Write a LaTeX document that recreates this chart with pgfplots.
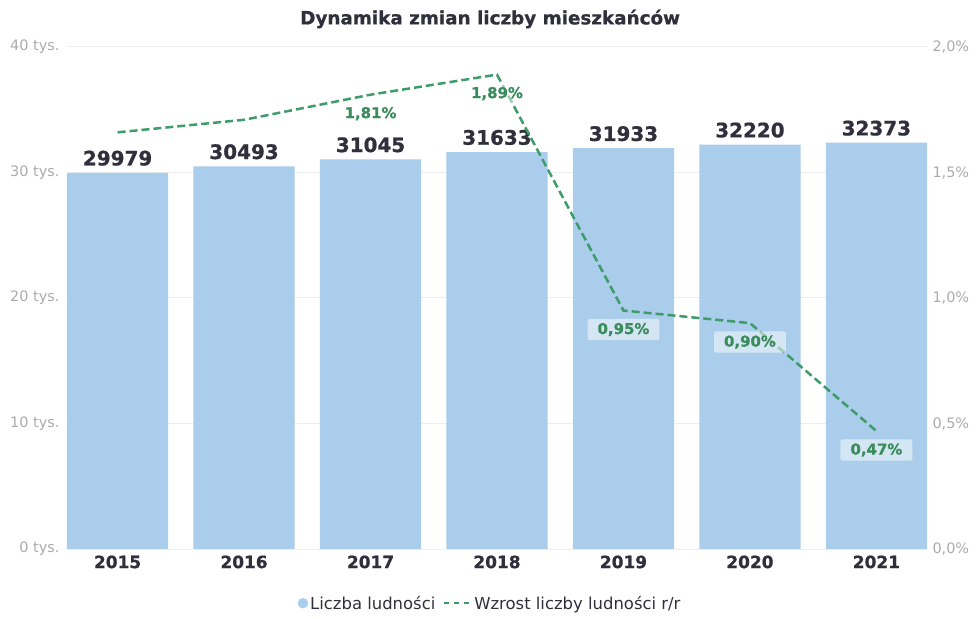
\documentclass[border=0pt]{standalone}
\usepackage{pgfplots}
\pgfplotsset{compat=1.18}
\usepackage{fontspec}
\setmainfont{DejaVu Sans}
\newfontfamily\heavy{DejaVu Sans Bold}[FakeBold=0.8]
\definecolor{barblue}{HTML}{A9CDEA}
\definecolor{lgreen}{HTML}{3E9B6A}
\definecolor{tgreen}{HTML}{3A8C5C}
\definecolor{tickgray}{HTML}{ABABAB}
\definecolor{darktxt}{HTML}{30303C}
\definecolor{gridc}{HTML}{EDEDED}
\begin{document}
\begin{tikzpicture}
\useasboundingbox (-67bp,-70bp) rectangle (911bp,549bp);
\begin{axis}[
  at={(0,0)}, anchor=south west,
  scale only axis, width=860bp, height=502bp,
  xmin=-0.4, xmax=6.4, ymin=0, ymax=40000,
  scaled y ticks=false,
  xtick={0,1,2,3,4,5,6},
  xticklabels={2015,2016,2017,2018,2019,2020,2021},
  ytick={0,10000,20000,30000,40000},
  yticklabels={0 tys.,10 tys.,20 tys.,30 tys.,40 tys.},
  ymajorgrids, grid style={gridc, line width=1bp},
  axis line style={draw=none},
  major tick length=0pt,
  yticklabel style={font=\fontsize{14.5}{16}\selectfont, text=tickgray, xshift=-4bp},
  xticklabel style={font=\heavy\fontsize{17}{19}\selectfont, text=darktxt, yshift=-3bp},
  title={Dynamika zmian liczby mieszkańców},
  title style={at={(0.492,1)}, anchor=center, yshift=22bp,
    font=\heavy\fontsize{18.4}{20}\selectfont, text=darktxt},
  /pgf/number format/1000 sep={},
  /pgf/number format/assume math mode=true,
  nodes near coords,
  nodes near coords style={font=\heavy\fontsize{20}{22}\selectfont, text=darktxt, yshift=3.5bp},
]
\addplot[ybar, bar width=0.8, fill=barblue, draw=none] coordinates {
  (0,29979) (1,30493) (2,31045) (3,31633) (4,31933) (5,32220) (6,32373)
};
\end{axis}
\begin{axis}[
  at={(0,0)}, anchor=south west,
  scale only axis, width=860bp, height=502bp,
  xmin=-0.4, xmax=6.4, ymin=0, ymax=2,
  xtick=\empty,
  axis x line=none,
  axis y line*=right,
  axis line style={draw=none},
  major tick length=0pt,
  ytick={0,0.5,1,1.5,2},
  yticklabels={{0,0\%},{0,5\%},{1,0\%},{1,5\%},{2,0\%}},
  yticklabel style={font=\fontsize{14.5}{16}\selectfont, text=tickgray, xshift=2bp},
  legend style={at={(0.492,-0.108)}, anchor=center, draw=none, fill=none,
    font=\fontsize{16.5}{18}\selectfont, text=darktxt, legend columns=2,
    /tikz/every even column/.append style={column sep=6bp},
    legend cell align=left},
]
\addlegendimage{legend image code/.code={\fill[barblue] (2bp,0bp) circle (5bp);}}
\addlegendentry{Liczba ludności}
\addplot[lgreen, line width=2.5bp, dash pattern=on 8bp off 4bp, mark=none,
  legend image code/.code={\draw[lgreen, line width=2bp, dash pattern=on 5bp off 5bp] (0bp,0bp) -- (27bp,0bp);}]
  coordinates {(0,1.66) (1,1.71) (2,1.81) (3,1.89) (4,0.95) (5,0.90) (6,0.47)};
\addlegendentry{Wzrost liczby ludności r/r}
\addplot[draw=none, mark=none, forget plot,
  point meta=y,
  nodes near coords={\pgfmathprintnumber[fixed,fixed zerofill,precision=2,use comma]{\pgfplotspointmeta}\%},
  every node near coord/.append style={anchor=center, yshift=-19bp,
    font=\heavy\fontsize{15}{17}\selectfont, text=tgreen,
    fill=white, fill opacity=0.5, text opacity=1, rounded corners=2bp,
    inner xsep=10bp, inner ysep=4bp},
  /pgf/number format/assume math mode=true]
  coordinates {(2,1.81) (3,1.89) (4,0.95) (5,0.90) (6,0.47)};
\end{axis}
\end{tikzpicture}
\end{document}
